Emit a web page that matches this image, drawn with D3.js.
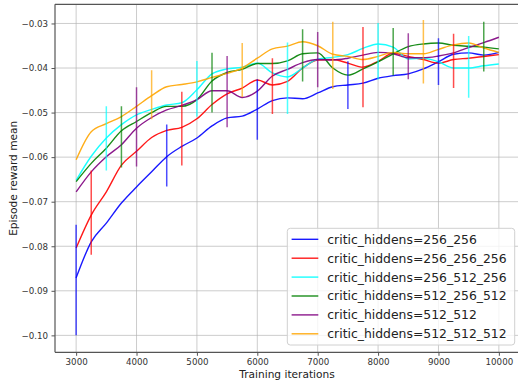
<!DOCTYPE html>
<html><head><meta charset="utf-8">
<script src="https://cdn.jsdelivr.net/npm/d3@7"></script>
<style>
html,body{margin:0;padding:0;background:#fff;}
svg{display:block;font-family:"DejaVu Sans",sans-serif;}
</style></head>
<body><svg id="chart" width="518" height="387"></svg>
<script>
const iterations = [3000,3250,3500,3750,4000,4250,4500,4750,5000,5250,5500,5750,6000,6250,6500,6750,7000,7250,7500,7750,8000,8250,8500,8750,9000,9250,9500,9750,10000];

const seriesNames = ["critic_hiddens=256_256","critic_hiddens=256_256_256","critic_hiddens=256_512_256","critic_hiddens=512_256_512","critic_hiddens=512_512","critic_hiddens=512_512_512"];
const seriesColors = ["#0000ff","#ff0000","#00ffff","#008000","#800080","#ffa500"];

const h256_256 = [-0.0871,-0.0790,-0.0748,-0.0703,-0.0667,-0.0633,-0.0599,-0.0576,-0.0557,-0.0530,-0.0512,-0.0508,-0.0492,-0.0473,-0.0467,-0.0469,-0.0456,-0.0442,-0.0438,-0.0434,-0.0423,-0.0417,-0.0413,-0.0402,-0.0386,-0.0369,-0.0366,-0.0371,-0.0365];
const h256_256_256 = [-0.0804,-0.0730,-0.0678,-0.0618,-0.0587,-0.0556,-0.0540,-0.0533,-0.0514,-0.0482,-0.0458,-0.0445,-0.0427,-0.0438,-0.0430,-0.0400,-0.0382,-0.0381,-0.0389,-0.0398,-0.0385,-0.0367,-0.0374,-0.0381,-0.0389,-0.0381,-0.0378,-0.0374,-0.0370];
const h256_512_256 = [-0.0652,-0.0598,-0.0557,-0.0527,-0.0505,-0.0493,-0.0483,-0.0478,-0.0449,-0.0413,-0.0402,-0.0398,-0.0389,-0.0411,-0.0420,-0.0400,-0.0380,-0.0376,-0.0370,-0.0356,-0.0346,-0.0353,-0.0380,-0.0378,-0.0386,-0.0400,-0.0400,-0.0395,-0.0391];
const h512_256_512 = [-0.0655,-0.0614,-0.0580,-0.0541,-0.0520,-0.0500,-0.0486,-0.0486,-0.0471,-0.0429,-0.0410,-0.0403,-0.0390,-0.0390,-0.0384,-0.0368,-0.0366,-0.0400,-0.0416,-0.0402,-0.0386,-0.0368,-0.0352,-0.0346,-0.0344,-0.0349,-0.0351,-0.0353,-0.0357];
const h512_512 = [-0.0678,-0.0633,-0.0599,-0.0572,-0.0535,-0.0511,-0.0494,-0.0484,-0.0471,-0.0451,-0.0451,-0.0466,-0.0452,-0.0418,-0.0403,-0.0388,-0.0381,-0.0382,-0.0378,-0.0371,-0.0365,-0.0368,-0.0377,-0.0377,-0.0373,-0.0366,-0.0354,-0.0343,-0.0331];
const h512_512_512 = [-0.0606,-0.0543,-0.0525,-0.0509,-0.0486,-0.0462,-0.0442,-0.0437,-0.0431,-0.0421,-0.0412,-0.0400,-0.0378,-0.0357,-0.0351,-0.0341,-0.0350,-0.0369,-0.0374,-0.0381,-0.0374,-0.0365,-0.0368,-0.0368,-0.0358,-0.0348,-0.0344,-0.0355,-0.0365];

// error bars: [iteration, low, high]
const err256_256 = [[3000,-0.1000,-0.0752],[4500,-0.0666,-0.0527],[6000,-0.0561,-0.0425],[7500,-0.0492,-0.0385],[9000,-0.0438,-0.0333]];
const err256_256_256 = [[3250,-0.0819,-0.0630],[4750,-0.0619,-0.0453],[6250,-0.0503,-0.0378],[7750,-0.0488,-0.0308],[9250,-0.0445,-0.0323]];
const err256_512_256 = [[3500,-0.0630,-0.0486],[5000,-0.0509,-0.0384],[6500,-0.0503,-0.0343],[8000,-0.0426,-0.0299],[9500,-0.0467,-0.0328]];
const err512_256_512 = [[3750,-0.0623,-0.0486],[5250,-0.0500,-0.0366],[6750,-0.0430,-0.0313],[8250,-0.0417,-0.0310],[9750,-0.0408,-0.0296]];
const err512_512 = [[4000,-0.0621,-0.0443],[5500,-0.0533,-0.0373],[7000,-0.0443,-0.0319],[8500,-0.0425,-0.0322]];
const err512_512_512 = [[4250,-0.0515,-0.0405],[5750,-0.0465,-0.0344],[7250,-0.0447,-0.0296],[8750,-0.0435,-0.0292]];

const xTicks = [3000,4000,5000,6000,7000,8000,9000,10000];
const yTicks = [-0.10,-0.09,-0.08,-0.07,-0.06,-0.05,-0.04,-0.03];
const xLabel = "Training iterations";
const yLabel = "Episode reward mean";

const seriesValues = [h256_256,h256_256_256,h256_512_256,h512_256_512,h512_512,h512_512_512];
const seriesErrors = [err256_256,err256_256_256,err256_512_256,err512_256_512,err512_512,err512_512_512];

const L = 55, R = 520, T = 4.3, B = 352.3;
const svg = d3.select("#chart");
const x = d3.scaleLinear().domain([2650,10350]).range([L,R]);
const y = d3.scaleLinear().domain([-0.1038,-0.0257]).range([B,T]);

svg.append("defs").append("clipPath").attr("id","clip")
  .append("rect").attr("x",L).attr("y",T).attr("width",R-L).attr("height",B-T);

// grid
const grid = svg.append("g");
grid.selectAll(".gx").data(xTicks).join("line")
  .attr("x1",d=>x(d)).attr("x2",d=>x(d)).attr("y1",T).attr("y2",B)
  .attr("stroke","#b0b0b0").attr("stroke-opacity",0.65).attr("stroke-width",1);
grid.selectAll(".gy").data(yTicks).join("line")
  .attr("x1",L).attr("x2",R).attr("y1",d=>y(d)).attr("y2",d=>y(d))
  .attr("stroke","#b0b0b0").attr("stroke-opacity",0.65).attr("stroke-width",1);

// lines
const plot = svg.append("g").attr("clip-path","url(#clip)");
const line = d3.line().x((d,i)=>x(iterations[i])).y(d=>y(d)).curve(d3.curveMonotoneX);
seriesValues.forEach((vals,k)=>{
  plot.append("path").datum(vals).attr("d",line)
    .attr("fill","none").attr("stroke",seriesColors[k]).attr("stroke-width",1.4)
    .attr("stroke-opacity",0.9).attr("stroke-linejoin","round");
});
// error bars
seriesErrors.forEach((errs,k)=>{
  plot.selectAll(null).data(errs).join("line")
    .attr("x1",d=>x(d[0])).attr("x2",d=>x(d[0]))
    .attr("y1",d=>y(d[1])).attr("y2",d=>y(d[2]))
    .attr("stroke",seriesColors[k]).attr("stroke-width",1.5).attr("stroke-opacity",0.7);
});

// axes
const xAxis = svg.append("g").attr("transform",`translate(0,${B})`)
  .call(d3.axisBottom(x).tickValues(xTicks).tickFormat(d3.format("d")).tickSize(3.5).tickPadding(3.5));
const yAxis = svg.append("g").attr("transform",`translate(${L},0)`)
  .call(d3.axisLeft(y).tickValues(yTicks).tickFormat(d3.format(".2f")).tickSize(3.5).tickPadding(3.5));
[xAxis,yAxis].forEach(a=>{
  a.select(".domain").remove();
  a.selectAll(".tick line").attr("stroke","#555");
  a.selectAll(".tick text").attr("fill","#333").style("font-size","8.7px").style("font-family","DejaVu Sans");
});
// spines
svg.append("line").attr("x1",L).attr("x2",L).attr("y1",T).attr("y2",B).attr("stroke","#555").attr("stroke-width",1.2);
svg.append("line").attr("x1",L).attr("x2",R).attr("y1",B).attr("y2",B).attr("stroke","#555").attr("stroke-width",1.2);
svg.append("line").attr("x1",L).attr("x2",R).attr("y1",T).attr("y2",T).attr("stroke","#555").attr("stroke-width",1.2);

// axis labels
svg.append("text").attr("x",287).attr("y",378).attr("text-anchor","middle")
  .style("font-size","10.6px").attr("fill","#222").text(xLabel);
svg.append("text").attr("transform",`translate(17,${(T+B)/2}) rotate(-90)`).attr("text-anchor","middle")
  .style("font-size","10.6px").attr("fill","#222").text(yLabel);

// legend
const lg = svg.append("g");
const lx = 287.3, ly = 228.3, lw = 227.4, lh = 116.7;
lg.append("rect").attr("x",lx).attr("y",ly).attr("width",lw).attr("height",lh).attr("rx",3)
  .attr("fill","#fff").attr("fill-opacity",0.8).attr("stroke","#d0d0d0").attr("stroke-width",1);
seriesNames.forEach((n,k)=>{
  const yy = ly + 11 + k*18.9;
  lg.append("line").attr("x1",lx+4.3).attr("x2",lx+31).attr("y1",yy).attr("y2",yy)
    .attr("stroke",seriesColors[k]).attr("stroke-width",1.4).attr("stroke-opacity",0.9);
  lg.append("text").attr("x",lx+40).attr("y",yy).attr("dy","0.36em")
    .style("font-size","12.4px").attr("fill","#222").text(n);
});
</script></body></html>
